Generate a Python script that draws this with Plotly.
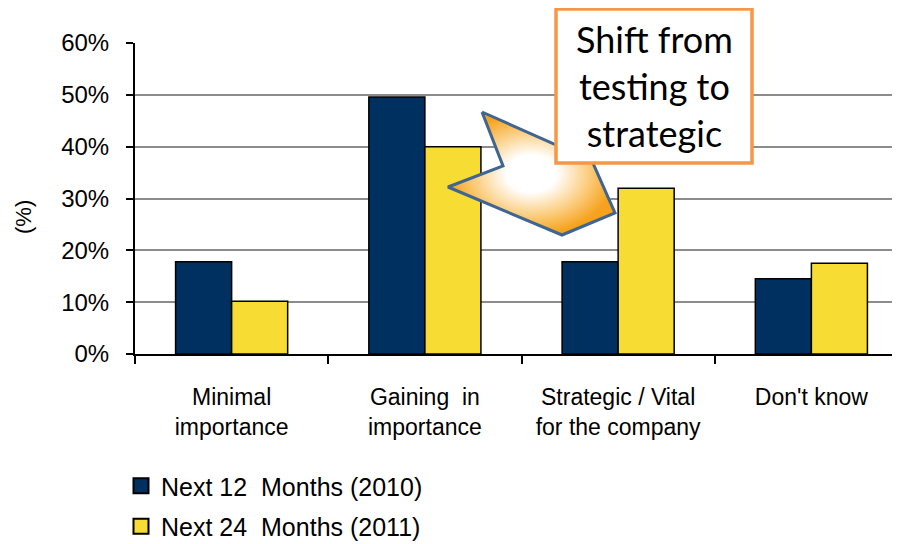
import plotly.graph_objects as go

categories = ["Minimal<br>importance", "Gaining  in<br>importance",
              "Strategic / Vital<br>for the company", "Don't know"]
series_2010 = [0.178, 0.496, 0.178, 0.145]
series_2011 = [0.102, 0.400, 0.320, 0.175]
series_names = ["Next 12  Months (2010)", "Next 24  Months (2011)"]
y_ticks = [0, 0.1, 0.2, 0.3, 0.4, 0.5, 0.6]
y_tick_labels = ["0%", "10%", "20%", "30%", "40%", "50%", "60%"]

# arrow callout outline (screen-pixel coordinates on overlay axes)
arrow_x = [482, 592, 615, 562, 448, 503, 482]
arrow_y = [112, 161, 213, 235, 187, 166, 112]

NAVY = "#00305F"
YELLOW = "#F7DC34"
FONT = "Liberation Sans, Arial, sans-serif"

# plot area on screen: x 135..908, y 43..354 (page has an 8px body offset)
X0, X1, Y0, Y1 = 135, 908, 43, 354

def px(v):
    return (v - X0) / float(X1 - X0)

def py(v):
    return (Y1 - v) / float(Y1 - Y0)

fig = go.Figure()
fig.add_trace(go.Bar(x=categories, y=series_2010, name=series_names[0],
                     marker=dict(color=NAVY, line=dict(color="black", width=1.5)),
                     showlegend=False))
fig.add_trace(go.Bar(x=categories, y=series_2011, name=series_names[1],
                     marker=dict(color=YELLOW, line=dict(color="black", width=1.5)),
                     showlegend=False))
fig.add_trace(go.Scatter(x=arrow_x, y=[-v for v in arrow_y], xaxis="x2", yaxis="y2",
                         mode="lines", fill="toself",
                         line=dict(color="#3F6592", width=3),
                         fillgradient=dict(type="radial",
                                           colorscale=[[0, "#FFFFFF"], [0.3, "#FFFFFF"],
                                                       [0.7, "#FBCB7A"], [1, "#F6A21C"]]),
                         showlegend=False, hoverinfo="skip"))
# legend entries with larger square swatches
for name, col, grp in [(series_names[0], NAVY, "a"), (series_names[1], YELLOW, "b")]:
    fig.add_trace(go.Scatter(x=[None], y=[None], mode="markers", name=name,
                             marker=dict(symbol="square", size=15, color=col,
                                         line=dict(color="black", width=2)),
                             legendgroup=grp, showlegend=True))

fig.add_shape(type="rect", xref="paper", yref="paper",
              x0=px(556), x1=px(752), y0=py(163), y1=py(9),
              fillcolor="white", line=dict(color="#F79646", width=3.5), layer="above")
fig.add_annotation(xref="paper", yref="paper", x=px(654), y=py(86),
                   text="Shift from<br>testing to<br>strategic", showarrow=False,
                   font=dict(family="Lato, Carlito, sans-serif", size=36, color="black"),
                   align="center", xanchor="center", yanchor="middle")
fig.add_annotation(xref="paper", yref="paper", x=px(23), y=py(217),
                   text="(%)", showarrow=False, textangle=-90,
                   font=dict(family=FONT, size=22, color="black"),
                   xanchor="center", yanchor="middle")

fig.update_layout(
    width=900, height=544,
    margin=dict(l=X0 - 8, r=0, t=Y0 - 8, b=544 - (Y1 - 8), autoexpand=False),
    paper_bgcolor="white", plot_bgcolor="white",
    barmode="group", bargap=0.42, bargroupgap=0,
    font=dict(family=FONT, size=22, color="black"),
    legend=dict(x=px(121), y=py(463), xanchor="left", yanchor="top",
                orientation="v", font=dict(size=25, family=FONT),
                tracegroupgap=5, itemwidth=30, traceorder="grouped",
                bgcolor="rgba(0,0,0,0)"),
    xaxis=dict(range=[-0.5, 3.5], showline=True, linecolor="black", linewidth=2,
               ticks="outside", ticklen=8, tickwidth=1.5, tickcolor="black",
               tickson="boundaries", showgrid=False, automargin=False,
               tickfont=dict(size=23, family=FONT), ticklabelstandoff=21),
    yaxis=dict(range=[0, 0.6], tickvals=y_ticks, ticktext=y_tick_labels,
               showline=True, linecolor="black", linewidth=2, automargin=False,
               ticks="outside", ticklen=7, tickwidth=1.5, tickcolor="black",
               showgrid=True, gridcolor="#8C8C8C", gridwidth=2, zeroline=False,
               tickfont=dict(size=24, family=FONT), ticklabelstandoff=12),
    xaxis2=dict(overlaying="x", range=[X0, X1], visible=False, fixedrange=True),
    yaxis2=dict(overlaying="y", range=[-Y1, -Y0], visible=False, fixedrange=True),
)

fig.write_html("out.html")
